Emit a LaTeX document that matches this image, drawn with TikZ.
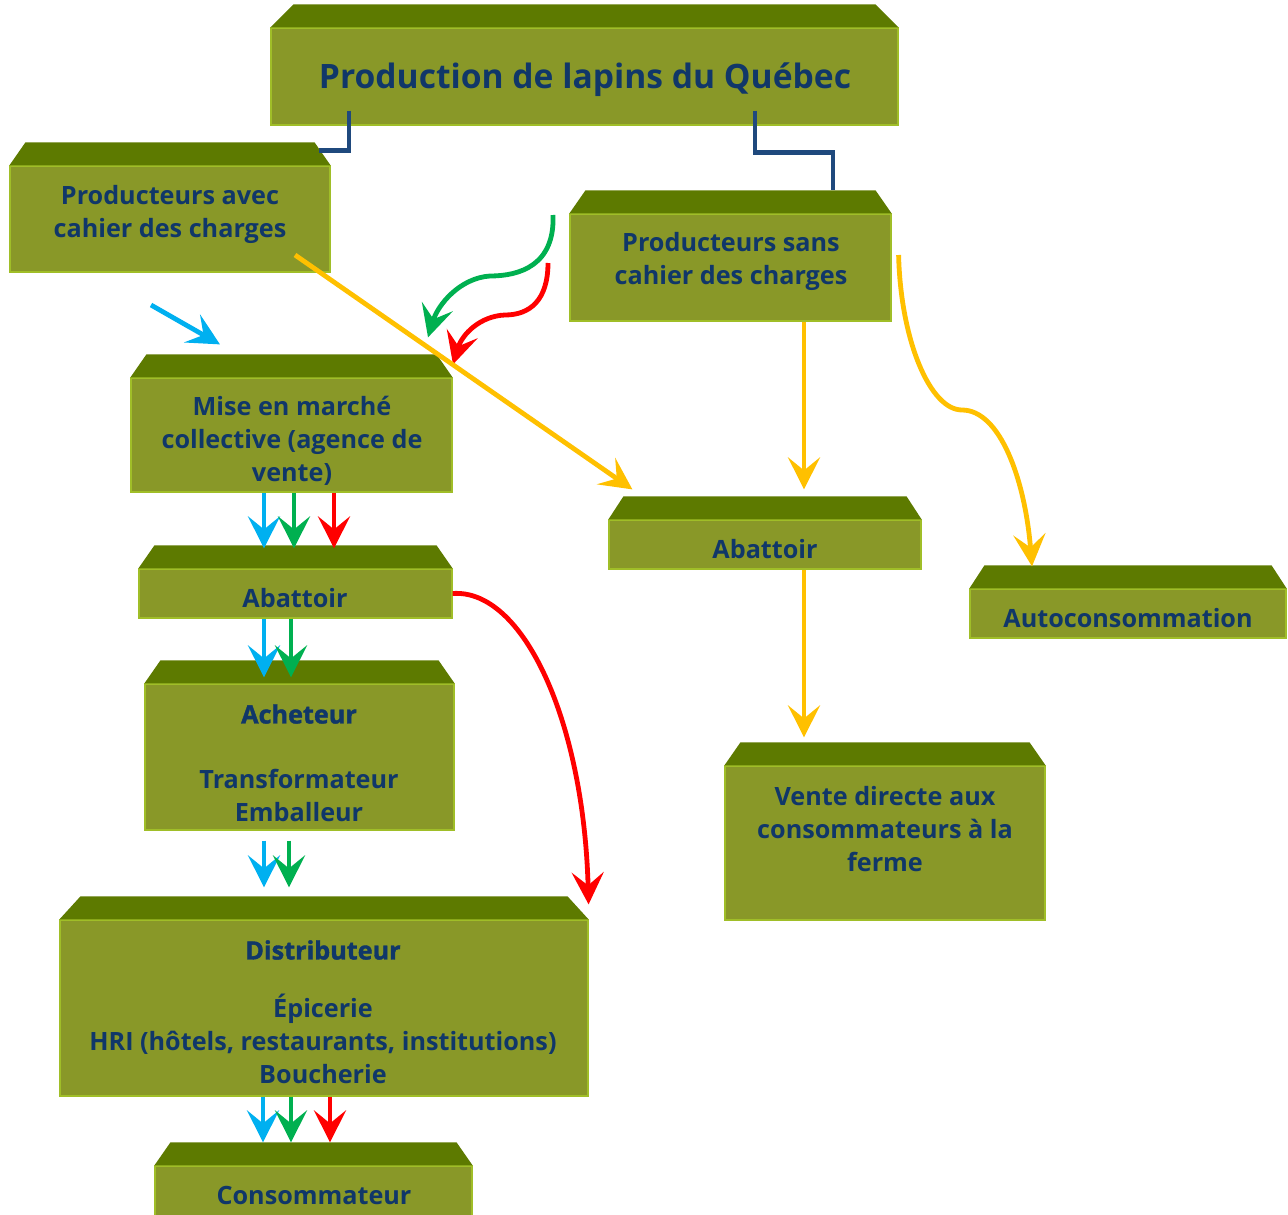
\documentclass[tikz,border=0pt]{standalone}
\usepackage{fontspec}
\setmainfont{Open Sans}
\usetikzlibrary{arrows.meta}
\definecolor{topg}{RGB}{93,122,0}
\definecolor{frontg}{RGB}{137,152,40}
\definecolor{edgeg}{RGB}{160,190,40}
\definecolor{txt}{RGB}{16,55,105}
\definecolor{navy}{RGB}{31,73,125}
\definecolor{cy}{RGB}{0,176,240}
\definecolor{gr}{RGB}{0,176,80}
\definecolor{rd}{RGB}{255,0,0}
\definecolor{yl}{RGB}{255,192,0}
\newcommand\hvy[1]{{\addfontfeature{FakeBold=1.5}#1}}
\tikzset{
  front/.style={fill=frontg,draw=edgeg,line width=1.2pt,inner sep=0pt},
  lbl/.style={text=txt,align=center,inner sep=0pt,font=\fontsize{25.2}{33}\selectfont\bfseries},
  arr/.style={line width=4.8pt,-{Stealth[length=32pt,width=32pt,inset=13pt]}},
  elbow/.style={navy,line width=4.5pt},
}
\newcommand\topband[2][18]{%
  \fill[topg] (#2.north west) -- ([shift={(#1,-23)}]#2.north west) -- ([shift={(-#1,-23)}]#2.north east) -- (#2.north east) -- cycle;}
\begin{document}
\begin{tikzpicture}[x=1pt,y=-1pt]
\useasboundingbox (0,0) rectangle (1288,1215);
% boxes
\node[front,minimum width=627pt,minimum height=97pt] (prod) at (584.5,76.5) {};
\topband[23]{prod}
\node[lbl,font=\fontsize{33.6}{40}\selectfont\bfseries] (prodt) at (585,80) {Production de lapins du Québec};

\node[front,minimum width=320pt,minimum height=106pt] (avec) at (170,219) {};
\topband[16]{avec}
\node[lbl] (avect) at (170,214) {Producteurs avec\\cahier des charges};

\node[front,minimum width=321pt,minimum height=107pt] (sans) at (730.5,267.5) {};
\topband[16]{sans}
\node[lbl] (sanst) at (731,261) {Producteurs sans\\cahier des charges};

\node[front,minimum width=321pt,minimum height=114pt] (mise) at (291.5,435) {};
\topband[16]{mise}
\node[lbl] (miset) at (292,441) {Mise en marché\\collective (agence de\\vente)};

\node[front,minimum width=313pt,minimum height=49pt] (abatL) at (295.5,593.5) {};
\topband[16]{abatL}
\node[lbl] (abatLt) at (295,598) {Abattoir};

\node[front,minimum width=309pt,minimum height=146pt] (ach) at (299.5,757) {};
\topband[16]{ach}
\node[lbl] (acht) at (299,763) {\hvy{Acheteur}\\[32pt]Transformateur\\Emballeur};

\node[front,minimum width=528pt,minimum height=176pt] (dist) at (324,1008) {};
\topband[21]{dist}
\node[lbl] (distt) at (323,1012) {\hvy{Distributeur}\\[25pt]Épicerie\\HRI (hôtels, restaurants, institutions)\\Boucherie};

\node[front,minimum width=317pt,minimum height=59pt] (cons) at (313.5,1195.5) {};
\topband[16]{cons}
\node[lbl] (const) at (314,1195) {Consommateur};

\node[front,minimum width=312pt,minimum height=49pt] (abatM) at (765,544.5) {};
\topband[15]{abatM}
\node[lbl] (abatMt) at (765,549) {Abattoir};

\node[front,minimum width=316pt,minimum height=49pt] (auto) at (1128,613.5) {};
\topband[15]{auto}
\node[lbl] (autot) at (1128,618) {Autoconsommation};

\node[front,minimum width=320pt,minimum height=154pt] (vente) at (885,843) {};
\topband[16]{vente}
\node[lbl] (ventet) at (885,829) {Vente directe aux\\consommateurs à la\\ferme};

% navy elbow connectors
\coordinate (pl) at ([xshift=-235.5pt,yshift=15pt]prod.south);
\coordinate (pr) at ([xshift=170.5pt,yshift=15pt]prod.south);
\draw[elbow] (pl) |- ([xshift=-12pt,yshift=15pt]avec.north east);
\draw[elbow] (pr) -- ([yshift=-42pt]pr) -| ([xshift=102.5pt,yshift=23pt]sans.north);

% free-start arrows into mise
\coordinate (cs) at (151,305);
\coordinate (gs) at (553,215);
\coordinate (rs) at (548,263);
\coordinate (ct) at ([xshift=-71.5pt,yshift=33pt]mise.north);
\coordinate (gt) at ([xshift=136.5pt,yshift=40pt]mise.north);
\coordinate (rt) at ([xshift=161.5pt,yshift=13pt]mise.north);
\draw[arr,cy] (cs) -- (ct);
\draw[arr,gr] (gs) .. controls +(2,50) and +(30,0) .. (490,276) .. controls +(-30,2) and +(10,-33) .. (gt);
\draw[arr,rd] (rs) .. controls +(0,37) and +(25,0) .. (505,315) .. controls +(-25,1) and +(9,-30) .. (rt);

% yellow
\draw[arr,yl] ([xshift=125pt,yshift=-36pt]avec.center) -- ([xshift=24pt,yshift=30pt]abatM.north west);
\draw[arr,yl] ([xshift=73.5pt]sans.south) -- ([xshift=39pt,yshift=30pt]abatM.north);
\draw[arr,yl] ([xshift=39pt]abatM.south) -- ([xshift=-81pt,yshift=28pt]vente.north);
\draw[arr,yl] ([xshift=7pt,yshift=12.5pt]sans.east) .. controls +(2,85) and +(-32,0) .. (962,410) .. controls +(38,0) and +(-7,-87) .. ([xshift=-96pt,yshift=22pt]auto.north);

% mise -> abatL
\draw[arr,cy] ([xshift=-27.5pt]mise.south) -- ([xshift=-31.5pt,yshift=20pt]abatL.north);
\draw[arr,gr] ([xshift=2.5pt]mise.south) -- ([xshift=-1.5pt,yshift=20pt]abatL.north);
\draw[arr,rd] ([xshift=42.5pt]mise.south) -- ([xshift=38.5pt,yshift=20pt]abatL.north);
% abatL -> ach
\draw[arr,cy] ([xshift=-31.5pt]abatL.south) -- ([xshift=-35.5pt,yshift=6pt]ach.north);
\draw[arr,gr] ([xshift=-4.5pt]abatL.south) -- ([xshift=-8.5pt,yshift=6pt]ach.north);
% ach -> dist
\draw[arr,cy] ([xshift=-35.5pt,yshift=-10pt]ach.south) -- ([xshift=-60pt,yshift=32pt]dist.north);
\draw[arr,gr] ([xshift=-10.5pt,yshift=-10pt]ach.south) -- ([xshift=-35pt,yshift=32pt]dist.north);
% abatL -> dist (red)
\draw[arr,rd] (abatL.east) .. controls +(70,-5) and +(-5,-185) .. ([yshift=15pt]dist.north east);
% dist -> cons
\draw[arr,cy] ([xshift=-61pt]dist.south) -- ([xshift=-50.5pt,yshift=23pt]cons.north);
\draw[arr,gr] ([xshift=-33pt]dist.south) -- ([xshift=-22.5pt,yshift=23pt]cons.north);
\draw[arr,rd] ([xshift=6pt]dist.south) -- ([xshift=16.5pt,yshift=23pt]cons.north);
\end{tikzpicture}
\end{document}
